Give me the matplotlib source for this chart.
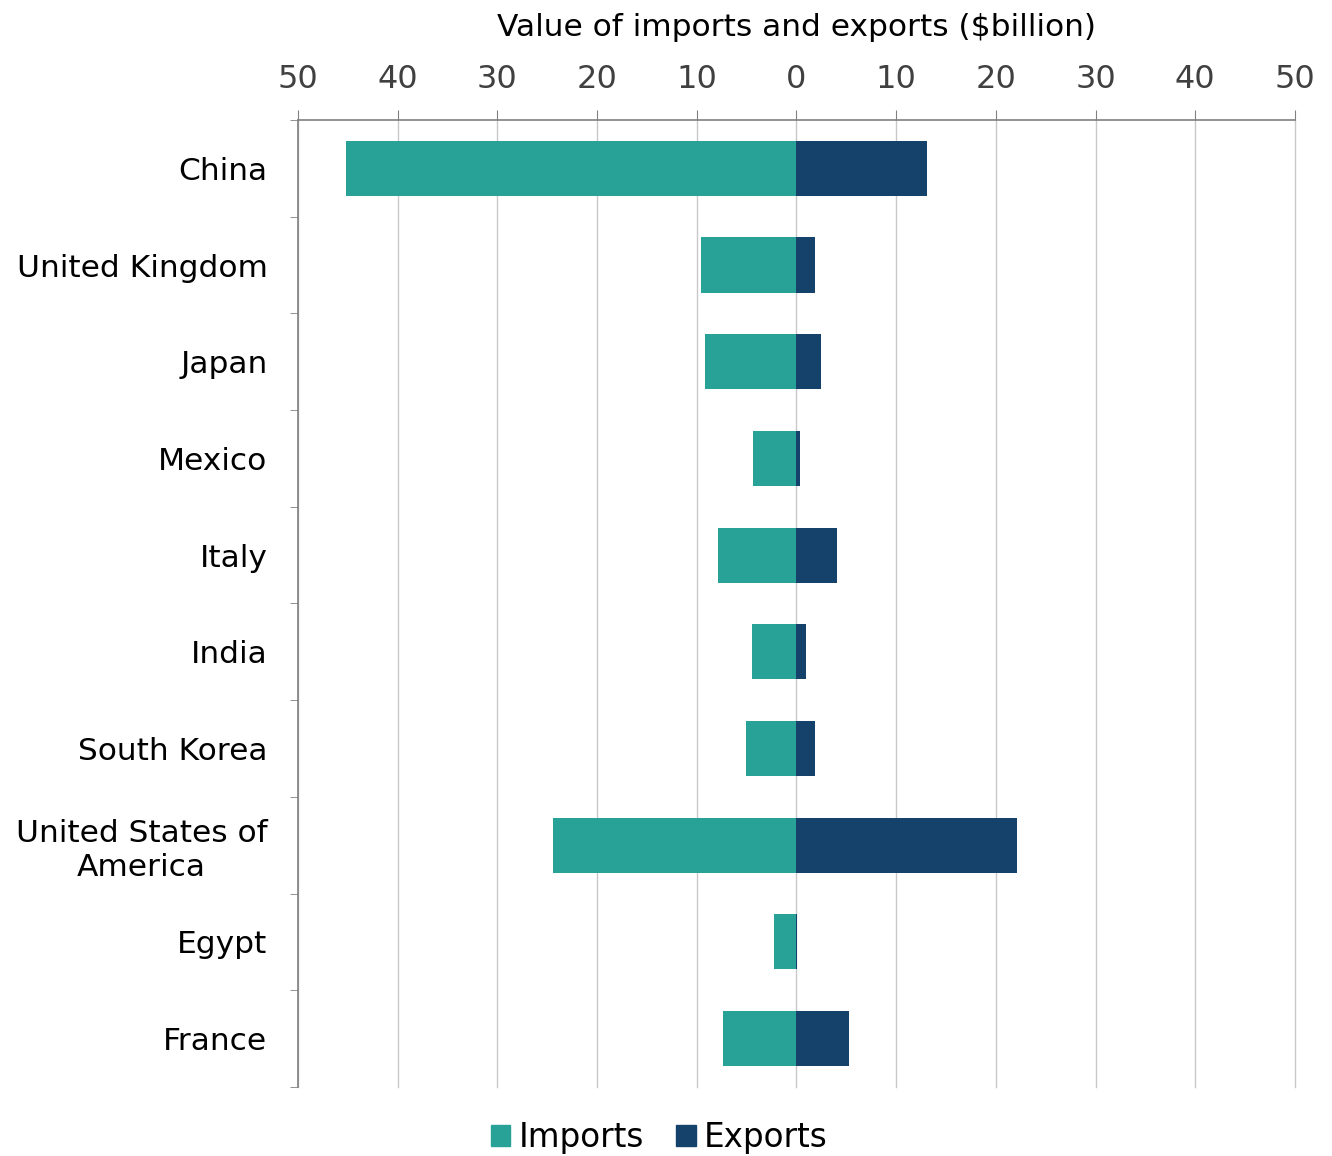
import numpy as np
import matplotlib.pyplot as plt
from matplotlib.ticker import FuncFormatter, FixedLocator
from matplotlib.patches import Patch

plt.rcParams['font.family'] = ['DejaVu Sans']

# trade partners, top to bottom
countries = ['China', 'United Kingdom', 'Japan', 'Mexico', 'Italy', 'India',
             'South Korea', 'United States of\nAmerica', 'Egypt', 'France']
imports = [45.2, 9.6, 9.2, 4.4, 7.9, 4.5, 5.1, 24.4, 2.3, 7.4]
exports = [13.1, 1.9, 2.5, 0.4, 4.1, 1.0, 1.9, 22.1, 0.05, 5.3]
ticks = list(range(-50, 51, 10))

imp_color = '#28a297'
exp_color = '#15426b'
axis_grey = '#808080'

fig = plt.figure(figsize=(13.32, 11.56), dpi=100)
ax = fig.add_axes([0.2237, 0.0597, 0.7485, 0.8365])

y = np.arange(len(countries))
ax.barh(y, [-v for v in imports], height=0.57, color=imp_color, zorder=3)
ax.barh(y, exports, height=0.57, color=exp_color, zorder=3)

ax.set_xlim(-50, 50)
ax.set_ylim(len(countries) - 0.5, -0.5)

ax.xaxis.tick_top()
ax.set_xticks(ticks)
ax.xaxis.set_major_formatter(FuncFormatter(lambda v, p: f'{abs(v):.0f}'))
ax.tick_params(axis='x', which='major', length=7, color=axis_grey,
               labelsize=23, labelcolor='#404040', pad=11)
ax.grid(axis='x', color='#c8c8c8', linewidth=1, zorder=0)
for gl in ax.get_xgridlines():
    gl.set_clip_on(False)
ax.set_xlabel('Value of imports and exports ($billion)', fontsize=22.5, labelpad=20)
ax.xaxis.set_label_position('top')

# category labels centred, tick marks between categories
ax.set_yticks(y)
ax.set_yticklabels(countries, fontsize=22.5, multialignment='center')
ax.tick_params(axis='y', which='major', length=0, pad=22)
ax.yaxis.set_minor_locator(FixedLocator(np.arange(-0.5, len(countries), 1)))
ax.tick_params(axis='y', which='minor', length=6, color=axis_grey)

for side in ['right', 'bottom']:
    ax.spines[side].set_visible(False)
for side in ['left', 'top']:
    ax.spines[side].set_color(axis_grey)
    ax.spines[side].set_linewidth(1.2)

handles = [Patch(color=imp_color, label='Imports'),
           Patch(color=exp_color, label='Exports')]
fig.legend(handles=handles, loc='center', bbox_to_anchor=(0.495, 0.016),
           ncol=2, frameon=False, fontsize=23.5, handlelength=0.6,
           handleheight=0.6, handletextpad=0.25, columnspacing=1.0)

fig.savefig('out.png', dpi=100)
